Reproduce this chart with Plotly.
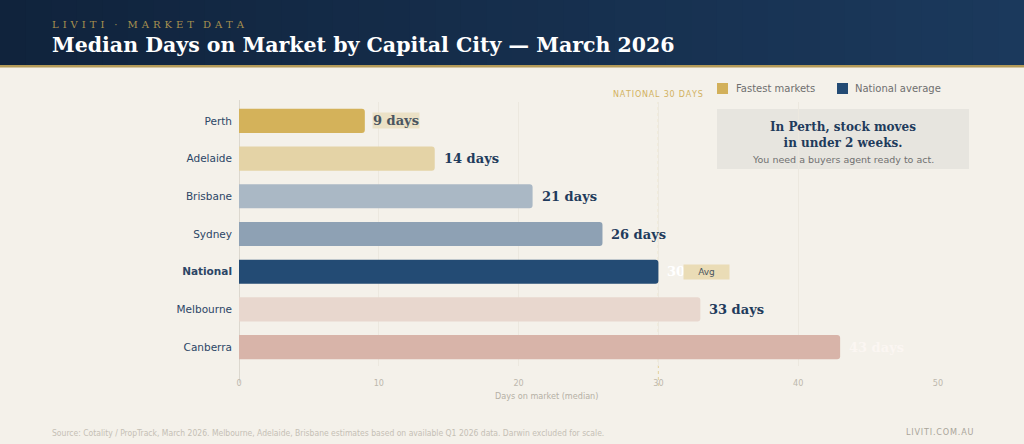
import plotly.graph_objects as go

# ---- data ----
cities = ["Perth", "Adelaide", "Brisbane", "Sydney", "National", "Melbourne", "Canberra"]
days = [9, 14, 21, 26, 30, 33, 43]
tick_labels = ["Perth", "Adelaide", "Brisbane", "Sydney", "<b>National</b>", "Melbourne", "Canberra"]
value_labels = ["9 days", "14 days", "21 days", "26 days", "30 days", "33 days", "43 days"]
national_avg = 30
x_ticks = [0, 10, 20, 30, 40, 50]

bar_colors = ["#d4b25a", "#e4d3a6", "#aab8c5", "#8ea1b4", "#234b74", "#e8d7ce", "#d8b4a9"]
label_colors = ["#4a5560", "#1f3b5c", "#1f3b5c", "#1f3b5c", "#ffffff", "#1f3b5c", "#fbf6f2"]

fig = go.Figure()
fig.add_trace(go.Bar(
    x=days, y=cities, orientation="h", width=0.64,
    marker=dict(color=bar_colors, line=dict(width=0)),
    hoverinfo="skip", showlegend=False,
))

BG = "#f4f1ea"
px = lambda v: (v - 239) / 699
py = lambda v: (366 - v) / 264

shapes = []
# header gradient
n = 40
c0 = (16, 35, 60)
c1 = (27, 57, 92)
for i in range(n):
    t = i / (n - 1)
    col = "rgb(%d,%d,%d)" % tuple(round(a + (b - a) * t) for a, b in zip(c0, c1))
    shapes.append(dict(type="rect", xref="paper", yref="paper",
                       x0=px(i * 1024 / n), x1=px((i + 1.05) * 1024 / n),
                       y0=py(65), y1=py(-5),
                       fillcolor=col, line=dict(width=0), layer="below"))
# gold rule under header
shapes.append(dict(type="rect", xref="paper", yref="paper",
                   x0=px(0), x1=px(1024), y0=py(67.5), y1=py(65),
                   fillcolor="#b39a58", line=dict(width=0)))
# national dashed line
shapes.append(dict(type="line", xref="x", yref="paper", x0=national_avg, x1=national_avg,
                   y0=py(386), y1=py(102), line=dict(color="#e6d5a8", width=1.2, dash="dot"),
                   layer="below"))
# zero axis line
shapes.append(dict(type="line", xref="x", yref="paper", x0=0, x1=0,
                   y0=py(383), y1=py(100), line=dict(color="#dcd8cf", width=2),
                   layer="below"))
# callout box
shapes.append(dict(type="rect", xref="paper", yref="paper",
                   x0=px(717), x1=px(969), y0=py(169), y1=py(109),
                   fillcolor="#e7e5df", line=dict(width=0), layer="below"))
# legend squares
shapes.append(dict(type="rect", xref="paper", yref="paper",
                   x0=px(717), x1=px(728), y0=py(94), y1=py(83),
                   fillcolor="#d2b05a", line=dict(width=0)))
shapes.append(dict(type="rect", xref="paper", yref="paper",
                   x0=px(837), x1=px(848), y0=py(94), y1=py(83),
                   fillcolor="#234b74", line=dict(width=0)))

ann = []
for c, v, lab, col in zip(cities, days, value_labels, label_colors):
    a = dict(x=v, y=c, xref="x", yref="y", text="<b>%s</b>" % lab, showarrow=False,
             xanchor="left", xshift=7,
             font=dict(family="DejaVu Serif", size=13, color=col))
    if c == "Perth":
        a["bgcolor"] = "#ebe1c6"
        a["borderpad"] = 0
    ann.append(a)
# Avg badge
ann.append(dict(x=national_avg, y="National", xref="x", yref="y", text="Avg", showarrow=False,
                xanchor="left", xshift=25, width=43, height=12, bgcolor="#eadcb6",
                font=dict(family="DejaVu Sans", size=9, color="#4a5560")))

def paper_text(x, y, text, size, color, family="DejaVu Sans", xanchor="left", xshift=0):
    ann.append(dict(x=px(x), y=py(y), xref="paper", yref="paper", text=text, showarrow=False,
                    xanchor=xanchor, yanchor="middle", xshift=xshift,
                    font=dict(family=family, size=size, color=color)))

sp = "\u2009\u200a\u200a"
def spaced(word):
    return sp.join(word)
subtitle = spaced("LIVITI") + "\u2003·\u2003" + spaced("MARKET") + "\u2002\u2009\u2009" + spaced("DATA")
paper_text(52, 24, subtitle, 10, "#a8914f", family="DejaVu Serif", xshift=-2)
paper_text(52, 45, "<b>Median Days on Market by Capital City — March 2026</b>", 20.5, "#ffffff",
           family="DejaVu Serif", xshift=-2)
paper_text(658, 95, "N\u200aA\u200aT\u200aI\u200aO\u200aN\u200aA\u200aL\u2009 3\u200a0\u2009 D\u200aA\u200aY\u200aS", 8, "#d2b160",
           xanchor="center")
paper_text(734, 89, "Fastest markets", 10, "#6f6f6f")
paper_text(853, 89, "National average", 10, "#6f6f6f")
ann.append(dict(x=px(843), y=py(134.5), xref="paper", yref="paper",
                text="<b>In Perth, stock moves<br>in under 2 weeks.</b>", showarrow=False,
                xanchor="center", yanchor="middle",
                font=dict(family="DejaVu Serif", size=12, color="#1f3b5c")))
paper_text(843, 159, "You need a buyers agent ready to act.", 9.5, "#707070", xanchor="center")
paper_text(546, 396, "Days on market (median)", 9, "#b5b0a5", family="DejaVu Sans Condensed",
           xanchor="center")
paper_text(52, 433, "Source: Cotality / PropTrack, March 2026. Melbourne, Adelaide, Brisbane estimates based on available Q1 2026 data. Darwin excluded for scale.",
           8.5, "#c5c0b5", family="DejaVu Sans Condensed", xshift=-2)
paper_text(975, 432, "L\u200aI\u200aV\u200aI\u200aT\u200aI\u200a.\u200aC\u200aO\u200aM\u200a.\u200aA\u200aU", 9, "#aaa59a",
           family="DejaVu Sans Condensed", xanchor="right")

fig.update_layout(
    width=1024, height=444,
    margin=dict(l=239, r=86, t=102, b=78),
    paper_bgcolor=BG, plot_bgcolor=BG,
    barcornerradius=3,
    shapes=shapes, annotations=ann,
    xaxis=dict(range=[0, 50], tickvals=x_ticks, showgrid=True, gridcolor="#ece8df", gridwidth=1,
               zeroline=False,
               tickfont=dict(family="DejaVu Sans Condensed", size=9, color="#bdb8ad"),
               ticks="outside", ticklen=8, tickcolor="rgba(0,0,0,0)",
               fixedrange=True, showline=False),
    yaxis=dict(categoryorder="array", categoryarray=cities, autorange="reversed",
               tickvals=cities, ticktext=tick_labels, ticks="", ticklabelstandoff=6,
               tickfont=dict(family="DejaVu Sans", size=10.5, color="#2c4666"),
               showgrid=False, zeroline=False, showline=False, fixedrange=True),
    bargap=0.36,
)

fig.write_html("out.html")
